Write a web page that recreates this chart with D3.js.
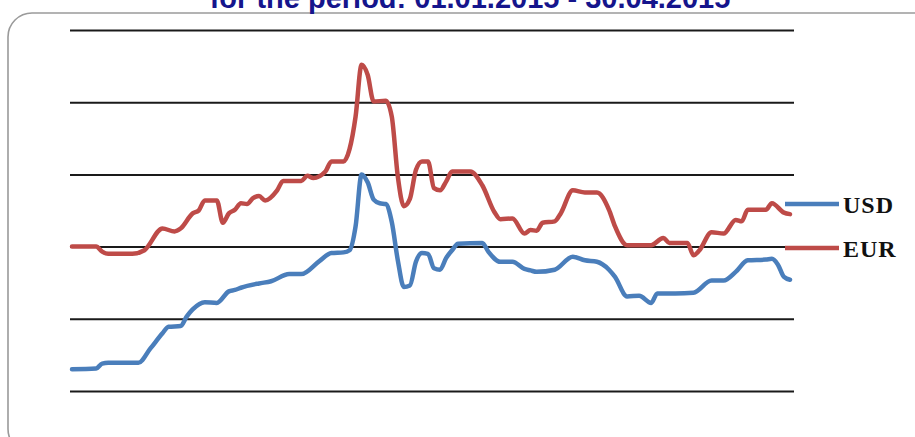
<html>
<head>
  <title>USD and EUR for the period</title>
  <script type="text/javascript" src="https://d3js.org/d3.v7.min.js" charset="utf-8"></script>
  <style>
    body { margin: 0; background: #fff; }
  </style>
</head>
<body>
<div id="container"></div>
<script>
    // values (day index from 01.01, arbitrary rate units)
    var titleText = "for the period: 01.01.2015 - 30.04.2015"
    var seriesNames = ["USD", "EUR"]
    var gridTicks = [40, 50, 60, 70, 80, 90]

    var usdDays = [0,4,5,6,11,13,15,16,18,19,20,22,24,26,27,28,31,33,36,38,41,43,45,46,47,48,49,50,51,52,53,54,55,56,57,58,59,60,61,62,63,64,68,69,71,73,75,76,77,80,83,85,87,89,90,92,94,96,97,100,103,106,108,110,112,115,116,117,118,119]
    var usdVals = [43.0,43.1,43.8,43.9,43.9,45.9,48.0,48.9,49.0,50.3,51.3,52.3,52.2,53.8,54.0,54.3,54.9,55.2,56.2,56.2,58.0,59.1,59.2,59.5,62.8,70.0,68.9,66.5,66.0,65.9,63.4,58.1,54.4,54.6,57.9,59.1,59.0,57.0,56.8,58.4,59.5,60.4,60.5,59.3,57.9,57.9,56.9,56.7,56.5,56.8,58.6,58.1,57.9,56.8,55.8,53.1,53.2,52.2,53.5,53.5,53.6,55.3,55.3,56.5,58.1,58.2,58.3,57.5,55.8,55.4]

    var eurDays = [0,4,5,6,10,12,15,17,18,20,21,22,24,25,26,27,28,29,30,31,32,34,35,38,39,40,42,43,45,46,47,48,49,50,52,53,54,55,56,57,58,59,60,61,62,63,66,68,70,71,73,75,76,77,78,80,81,83,85,87,89,90,92,96,98,99,102,103,104,106,108,110,111,112,115,116,118,119]
    var eurVals = [60.0,60.0,59.3,59.0,59.0,59.5,62.5,62.1,62.5,64.6,65.0,66.4,66.4,63.3,64.6,65.1,66.0,65.9,66.7,67.0,66.4,67.8,69.1,69.1,69.8,69.5,70.4,71.8,71.8,73.5,78.0,85.2,83.8,80.1,80.2,78.0,69.7,65.6,66.6,70.6,71.8,71.8,68.1,67.8,69.0,70.4,70.4,68.5,64.8,63.8,63.9,61.8,62.3,62.2,63.3,63.5,64.6,67.8,67.5,67.5,65.1,62.8,60.2,60.2,61.2,60.5,60.5,58.8,59.5,62.0,61.8,63.7,63.5,65.1,65.1,66.0,64.7,64.5]

    var colors = { USD: "#4a7ebb", EUR: "#be4b48" }

    var w = 915, h = 437

    var svg = d3.select("#container").append("svg")
        .attr("width", w)
        .attr("height", h)

    // frame
    svg.append("rect")
        .attr("x", 8).attr("y", 13)
        .attr("width", 930).attr("height", 440)
        .attr("rx", 24).attr("ry", 24)
        .attr("fill", "#fff")
        .attr("stroke", "#9a9a9a")
        .attr("stroke-width", 1.6)

    svg.append("text")
        .attr("x", 470).attr("y", 8)
        .attr("text-anchor", "middle")
        .attr("font-family", "Arial, 'Liberation Sans', sans-serif")
        .attr("font-weight", "bold")
        .attr("font-size", 29)
        .attr("fill", "#15158c")
        .text(titleText)

    var x = d3.scaleLinear().domain([0, 119]).range([72, 790])
    var y = d3.scaleLinear().domain([40, 90]).range([391, 30])

    var grid = svg.append("g")
        .attr("transform", "translate(70,0)")
        .call(d3.axisLeft(y).tickValues(gridTicks).tickSize(-724).tickFormat(""))
    grid.select(".domain").remove()
    grid.selectAll(".tick line")
        .attr("stroke", "#1a1a1a")
        .attr("stroke-width", 2)

    var line = d3.line()
        .x(function(d) { return x(d[0]) })
        .y(function(d) { return y(d[1]) })
        .curve(d3.curveMonotoneX)

    var series = [
        { name: "USD", data: d3.zip(usdDays, usdVals) },
        { name: "EUR", data: d3.zip(eurDays, eurVals) }
    ]

    svg.selectAll(".series")
        .data(series)
        .enter().append("path")
            .attr("class", "series")
            .attr("d", function(d) { return line(d.data) })
            .attr("fill", "none")
            .attr("stroke", function(d) { return colors[d.name] })
            .attr("stroke-width", 4.5)
            .attr("stroke-linejoin", "round")
            .attr("stroke-linecap", "round")

    // legend
    var legend = svg.selectAll(".legend")
        .data(seriesNames)
        .enter().append("g")
            .attr("class", "legend")
            .attr("transform", function(d, i) { return "translate(785," + (204 + i * 44) + ")" })

    legend.append("line")
        .attr("x1", 0).attr("x2", 54)
        .attr("stroke", function(d) { return colors[d] })
        .attr("stroke-width", 4.5)

    legend.append("text")
        .attr("x", 58).attr("y", 9)
        .attr("font-family", "'Liberation Serif', 'Times New Roman', serif")
        .attr("font-weight", "bold")
        .attr("font-size", 24)
        .attr("letter-spacing", 1)
        .attr("fill", "#111")
        .text(function(d) { return d })
</script>
</body>
</html>
